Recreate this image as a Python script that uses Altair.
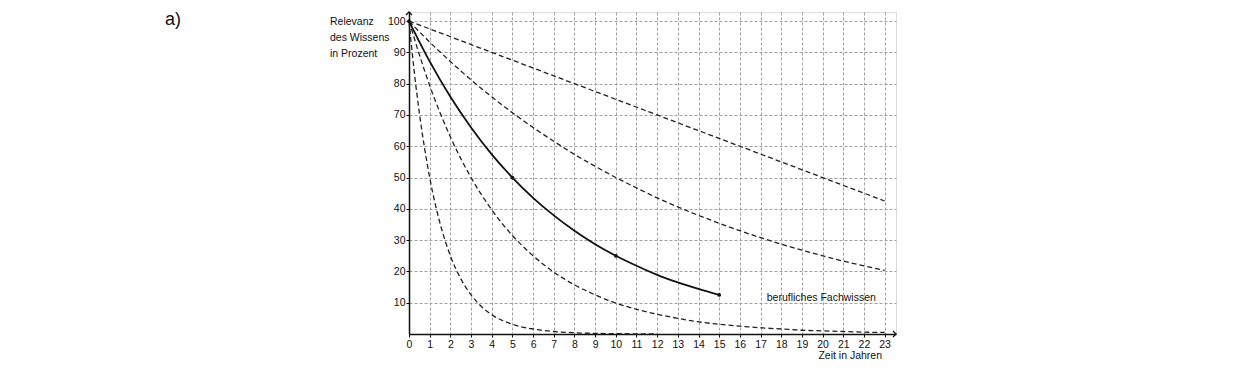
import altair as alt
import pandas as pd

FONT = "Liberation Sans"

# x tick labels (years) and y tick values
x_ticks = list(range(0, 24))
y_ticks = [10, 20, 30, 40, 50, 60, 70, 80, 90, 100]

# Curve A (flattest dashed)
a_t = [0, 4, 8, 12, 16, 20, 23]
a_v = [100, 90, 80, 70, 60, 50, 42.5]

# Curve B (dashed)
b_t = list(range(0, 24))
b_v = [100, 93.3, 87.1, 81.2, 75.8, 70.7, 66, 61.6, 57.4, 53.6, 50, 46.7,
       43.5, 40.6, 37.9, 35.4, 33, 30.8, 28.7, 26.8, 25, 23.3, 21.8, 20.3]

# Curve C (dashed)
c_t = list(range(0, 24))
c_v = [100, 79.4, 63, 50, 39.7, 31.5, 25, 19.8, 15.7, 12.5, 9.9, 7.9,
       6.3, 5, 3.9, 3.1, 2.5, 2, 1.6, 1.2, 1, 0.8, 0.6, 0.5]

# Curve D (steepest dashed)
d_t = [0, 0.25, 0.5, 0.75, 1, 1.5, 2, 2.5, 3, 3.5, 4, 5, 6, 7, 8, 9, 10, 11, 12]
d_v = [100, 84, 70.7, 59.5, 50, 35.4, 25, 17.7, 12.5, 8.8, 6.2, 3.1, 1.6,
       0.8, 0.4, 0.2, 0.1, 0.05, 0]

# Solid curve: berufliches Fachwissen
s_t = list(range(0, 16))
s_v = [100, 87.1, 75.8, 66, 57.4, 50, 43.5, 37.9, 33, 28.7, 25, 21.8,
       18.9, 16.5, 14.4, 12.5]

# Marked points on the solid curve
p_t = [0, 5, 10, 15]
p_v = [100, 50, 25, 12.5]

X_MAX = 23.55
Y_MAX = 102.9

dashed = pd.concat([
    pd.DataFrame({"t": a_t, "v": a_v, "c": "A"}),
    pd.DataFrame({"t": b_t, "v": b_v, "c": "B"}),
    pd.DataFrame({"t": c_t, "v": c_v, "c": "C"}),
    pd.DataFrame({"t": d_t, "v": d_v, "c": "D"}),
])
solid = pd.DataFrame({"t": s_t, "v": s_v})
pts = pd.DataFrame({"t": p_t, "v": p_v})

xs = alt.Scale(domain=[0, X_MAX], nice=False, zero=False)
ys = alt.Scale(domain=[0, Y_MAX], nice=False, zero=False)

x_enc = alt.X("t:Q", scale=xs, axis=alt.Axis(values=x_ticks, labelPadding=2))
y_enc = alt.Y("v:Q", scale=ys, axis=alt.Axis(values=y_ticks, labelPadding=1))

base_axes = alt.Chart(solid).mark_point(opacity=0).encode(x=x_enc, y=y_enc)

dash_layer = alt.Chart(dashed).mark_line(
    color="#222", strokeWidth=1.3, strokeDash=[5, 3], interpolate="monotone"
).encode(x=x_enc, y=y_enc, detail="c:N")

solid_layer = alt.Chart(solid).mark_line(
    color="#111", strokeWidth=1.8, interpolate="monotone"
).encode(x=x_enc, y=y_enc)

pt_layer = alt.Chart(pts).mark_circle(color="#111", size=14, opacity=1).encode(
    x=x_enc, y=y_enc
)

arrow_r = alt.Chart(pd.DataFrame({"t": [X_MAX], "v": [0]})).mark_point(
    shape="M-1,-1L0,0L-1,1", filled=False, color="#111", strokeWidth=1.3, size=36, opacity=1
).encode(x=x_enc, y=y_enc)

arrow_u = alt.Chart(pd.DataFrame({"t": [0], "v": [Y_MAX]})).mark_point(
    shape="M-1,1L0,0L1,1", filled=False, color="#111", strokeWidth=1.3, size=36, opacity=1
).encode(x=x_enc, y=y_enc)

label_df = pd.DataFrame({"t": [17.3], "v": [11.5], "txt": ["berufliches Fachwissen"]})
label_layer = alt.Chart(label_df).mark_text(
    align="left", baseline="middle", font=FONT, fontSize=10.5, color="#111"
).encode(x=x_enc, y=y_enc, text="txt:N")

def txt(s, x, y, size=10.5, align="left"):
    return alt.Chart(pd.DataFrame({"s": [s]})).mark_text(
        align=align, baseline="middle", font=FONT, fontSize=size, color="#111"
    ).encode(x=alt.value(x), y=alt.value(y), text="s:N")

texts = [
    txt("a)", -244, 8, size=18),
    txt("Relevanz", -79, 10),
    txt("des Wissens", -79, 26),
    txt("in Prozent", -79, 41.5),
    txt("Zeit in Jahren", 473, 344, align="right"),
]

chart = alt.layer(
    base_axes, dash_layer, solid_layer, pt_layer, arrow_r, arrow_u, label_layer, *texts
).properties(
    width=487, height=322,
    autosize=alt.AutoSizeParams(type="none"),
    padding={"left": 401, "top": 4, "right": 336, "bottom": 30},
).configure_view(stroke="transparent").configure(background="white").configure_axis(
    grid=True, gridColor="#a0a0a0", gridDash=[3, 2], gridWidth=1,
    domainColor="#111", domainWidth=1.5, tickColor="#111", tickSize=3,
    labelFont=FONT, labelFontSize=10.5, labelColor="#111", title=None,
    labelOverlap=False, labelFlush=False, labelBound=False,
)

chart.save("out.html", embed_options={"renderer": "svg", "actions": False})
